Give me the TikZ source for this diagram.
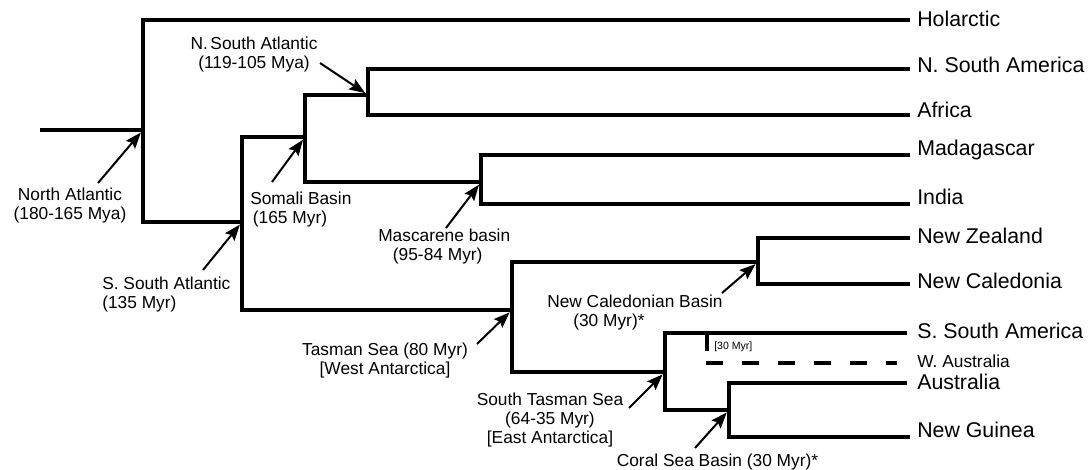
\documentclass[tikz,border=0pt]{standalone}
\usepackage{fontspec}
\setmainfont{Liberation Sans}
\usetikzlibrary{arrows.meta}
\begin{document}
\begin{tikzpicture}[x=0.75pt,y=-0.75pt,
  branch/.style={line width=3pt, line join=miter},
  arr/.style={line width=1.5pt, -{Stealth[length=12pt,width=9pt,inset=2pt]}, shorten >=2.5pt},
  taxon/.style={anchor=base west, inner sep=0pt, font=\fontsize{16}{19}\selectfont},
  note/.style={inner sep=0pt, font=\fontsize{13}{14.25}\selectfont, align=center},
  lnote/.style={note, align=left, anchor=west},
  tiny/.style={inner sep=0pt, anchor=west, font=\fontsize{7.9}{9}\selectfont},
]
\useasboundingbox (0,0) rectangle (1091,470);
% internal nodes
\coordinate (root) at (40,130);
\coordinate (n1) at (143,130);
\coordinate (n2) at (242,222);
\coordinate (n3) at (305,137);
\coordinate (n4) at (368,95);
\coordinate (n5) at (481,182);
\coordinate (n6) at (512,310);
\coordinate (n7) at (758,262);
\coordinate (n8) at (665,372);
\coordinate (n9) at (729,410);
% tips
\coordinate (tHol) at (910,20);
\coordinate (tNSA) at (910,69);
\coordinate (tAfr) at (910,115);
\coordinate (tMad) at (910,155);
\coordinate (tInd) at (910,204);
\coordinate (tNZ) at (910,238);
\coordinate (tNC) at (910,284);
\coordinate (tSSA) at (907,333);
\coordinate (tAus) at (907,383);
\coordinate (tNG) at (910,437);
\coordinate (tickTop) at (707,333);
\coordinate (tickBot) at (707,351);
\coordinate (dStart) at (706,363);
\coordinate (tWA) at (897,363);
% tree
\draw[branch] (root) -- (n1);
\draw[branch] (tHol) -| (n1) |- (n2);
\draw[branch] (n3) -| (n2) |- (n6);
\draw[branch] (n4) -| (n3) |- (n5);
\draw[branch] (tNSA) -| (n4) |- (tAfr);
\draw[branch] (tMad) -| (n5) |- (tInd);
\draw[branch] (n7) -| (n6) |- (n8);
\draw[branch] (tNZ) -| (n7) |- (tNC);
\draw[branch] (tSSA) -| (n8) |- (n9);
\draw[branch] (tAus) -| (n9) |- (tNG);
\draw[branch] (tickTop) -- (tickBot);
\draw[branch, dash pattern=on 12.75pt off 14.25pt] (dStart) -- (tWA);
% taxon labels
\node[taxon] (lHol) at (917,27) {Holarctic};
\node[taxon] (lNSA) at (917,72.6) {N. South America};
\node[taxon] (lAfr) at (917,118) {Africa};
\node[taxon] (lMad) at (917,155.6) {Madagascar};
\node[taxon] (lInd) at (917,204.6) {India};
\node[taxon] (lNZ) at (917,243.6) {New Zealand};
\node[taxon] (lNC) at (917,288) {New Caledonia};
\node[taxon] (lSSA) at (917,338) {S. South America};
\node[note, anchor=base west] (lWA) at (917,367) {W. Australia};
\node[taxon] (lAus) at (917,389.5) {Australia};
\node[taxon] (lNG) at (917,437) {New Guinea};
\node[tiny] (l30) at (714,347) {[30 Myr]};
% event labels
\node[note] (eNA) at (70,206) {North Atlantic\\(180-165 Mya)};
\node[note] (eNSA) at (254,55) {N.\hspace{0.15em}South Atlantic\\(119-105 Mya)};
\node[lnote] (eSom) at (250,209.5) {Somali Basin\\\hspace*{2pt}(165 Myr)};
\node[lnote] (eSSA) at (102,294.5) {S. South Atlantic\\(135 Myr)};
\node[lnote] (eMas) at (378,246.5) {Mascarene basin\\\hspace*{11pt}(95-84 Myr)};
\node[note] (eTas) at (385,360.5) {Tasman Sea (80 Myr)\\{[West Antarctica]}};
\node[lnote] (eNCB) at (547,313) {New Caledonian Basin\\\hspace*{19.5pt}(30 Myr)*};
\node[note] (eSTS) at (550,420.5) {South Tasman Sea\\(64-35 Myr)\\{[East Antarctica]}};
\node[note] (eCSB) at (717.5,462) {Coral Sea Basin (30 Myr)*};
% arrows
\coordinate (aNA) at (98,183);
\coordinate (aNSA) at (320,63);
\coordinate (aSom) at (272,182);
\coordinate (aSSA) at (203,270);
\coordinate (aMas) at (446,228);
\coordinate (aTas) at (477,344);
\coordinate (aNCB) at (722,293);
\coordinate (aSTS) at (629,408);
\coordinate (aCSB) at (695,448);
\draw[arr] (aNA) -- (n1);
\draw[arr] (aNSA) -- (n4);
\draw[arr] (aSom) -- (n3);
\draw[arr] (aSSA) -- (n2);
\draw[arr] (aMas) -- (n5);
\draw[arr] (aTas) -- (n6);
\draw[arr] (aNCB) -- (n7);
\draw[arr] (aSTS) -- (n8);
\draw[arr] (aCSB) -- (n9);
\end{tikzpicture}
\end{document}
